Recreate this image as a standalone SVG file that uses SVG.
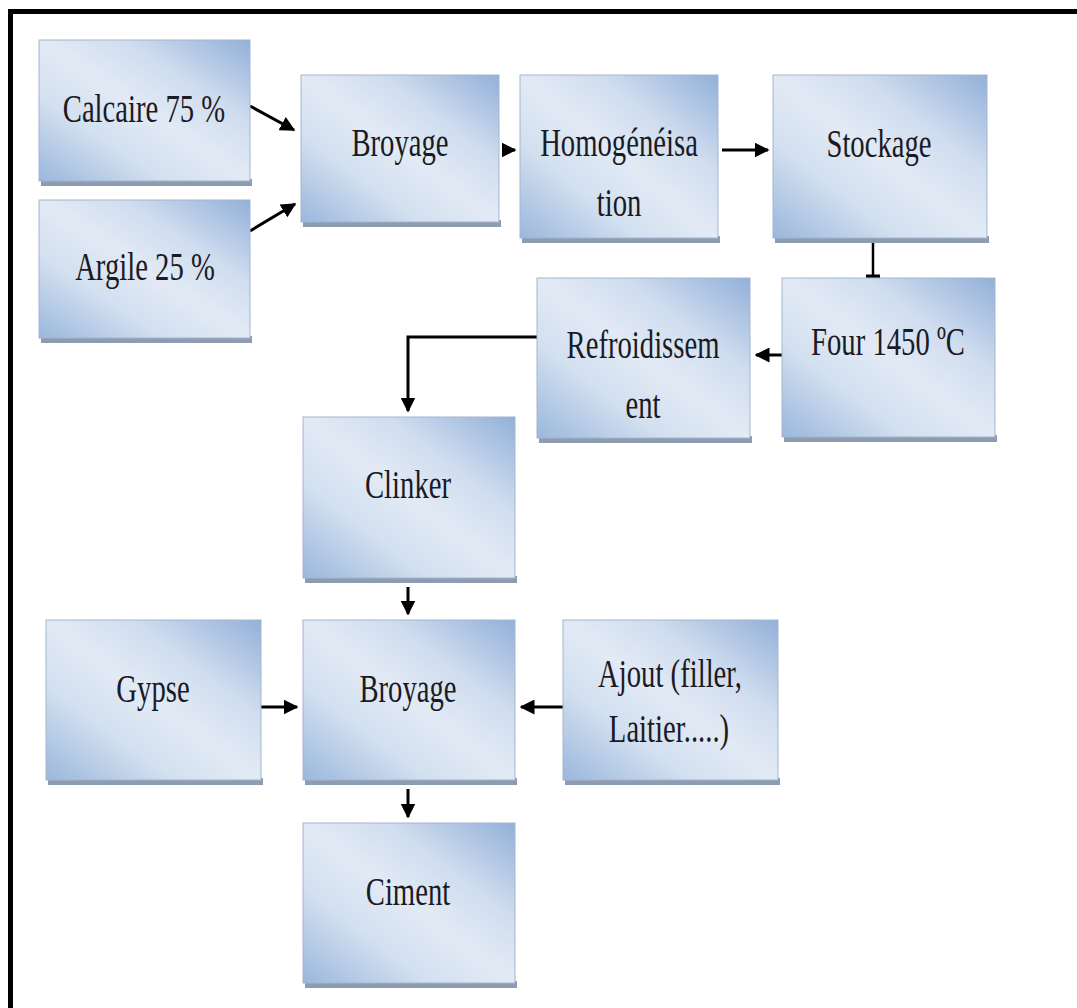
<svg xmlns="http://www.w3.org/2000/svg" width="1077" height="1008" viewBox="0 0 1077 1008">
<style>
.box{fill:url(#g);stroke:#a3b6cd;stroke-width:1}
.shd{fill:#8d9cb0}
.t{font-family:"Liberation Serif","DejaVu Serif","Times New Roman",serif;font-size:41px;fill:#1a1a24;text-anchor:middle}
.c{stroke:#000;stroke-width:3;fill:none}
</style>
<defs>
<linearGradient id="g" x1="0" y1="1" x2="1" y2="0">
<stop offset="0" stop-color="#9ab7dc"/>
<stop offset="0.3" stop-color="#d3e0f0"/>
<stop offset="0.5" stop-color="#e2eaf5"/>
<stop offset="0.7" stop-color="#d0ddef"/>
<stop offset="1" stop-color="#92b0d9"/>
</linearGradient>
<marker id="a" viewBox="0 0 10 10" refX="9" refY="5" markerWidth="5" markerHeight="5" orient="auto" markerUnits="strokeWidth">
<path d="M0,0 L10,5 L0,10 z" fill="#000"/>
</marker>
</defs>
<rect x="0" y="0" width="1077" height="1008" fill="#fff"/>
<path d="M10.5,1008 V11.5 H1077" stroke="#000" stroke-width="5" fill="none"/>

<g id="connectors">
<path class="c" d="M250,106 L294,130" marker-end="url(#a)"/>
<path class="c" d="M250,231 L295,204" marker-end="url(#a)"/>
<path class="c" d="M503,150 H515" marker-end="url(#a)"/>
<path class="c" d="M722,150 H768" marker-end="url(#a)"/>
<path d="M873,243 V276" stroke="#000" stroke-width="2.5"/>
<path d="M866,276.5 H880" stroke="#000" stroke-width="4"/>
<path class="c" d="M782,355 H756" marker-end="url(#a)"/>
<path class="c" d="M537,337 H408 V411" marker-end="url(#a)"/>
<path class="c" d="M408,587 V614" marker-end="url(#a)"/>
<path class="c" d="M261,707 H297" marker-end="url(#a)"/>
<path class="c" d="M563,707 H521" marker-end="url(#a)"/>
<path class="c" d="M408,789 V817" marker-end="url(#a)"/>
</g>

<g id="calcaire"><rect class="shd" x="41" y="179" width="211" height="7"/><rect class="box" x="39" y="40" width="211" height="141"/><text class="t" transform="translate(144,122) scale(0.7,1)">Calcaire 75 %</text></g>
<g id="argile"><rect class="shd" x="41" y="336" width="211" height="7"/><rect class="box" x="39" y="200" width="211" height="138"/><text class="t" transform="translate(145,280) scale(0.7,1)">Argile 25 %</text></g>
<g id="broyage1"><rect class="shd" x="303" y="220" width="198" height="7"/><rect class="box" x="301" y="75" width="198" height="147"/><text class="t" transform="translate(400,156) scale(0.7,1)">Broyage</text></g>
<g id="homogeneisation"><rect class="shd" x="522" y="236" width="198" height="7"/><rect class="box" x="520" y="75" width="198" height="163"/><text class="t" transform="translate(619,156) scale(0.7,1)">Homogénéisa</text><text class="t" transform="translate(619,216) scale(0.7,1)">tion</text></g>
<g id="stockage"><rect class="shd" x="775" y="236" width="214" height="7"/><rect class="box" x="773" y="75" width="214" height="163"/><text class="t" transform="translate(879,157) scale(0.7,1)">Stockage</text></g>
<g id="four"><rect class="shd" x="784" y="435" width="213" height="7"/><rect class="box" x="782" y="278" width="213" height="159"/><text class="t" transform="translate(888,355) scale(0.7,1)">Four 1450 ºC</text></g>
<g id="refroidissement"><rect class="shd" x="539" y="436" width="213" height="7"/><rect class="box" x="537" y="278" width="213" height="160"/><text class="t" transform="translate(643,358) scale(0.7,1)">Refroidissem</text><text class="t" transform="translate(643,418) scale(0.7,1)">ent</text></g>
<g id="clinker"><rect class="shd" x="305" y="576" width="212" height="7"/><rect class="box" x="303" y="417" width="212" height="161"/><text class="t" transform="translate(408,498) scale(0.7,1)">Clinker</text></g>
<g id="gypse"><rect class="shd" x="48" y="778" width="215" height="7"/><rect class="box" x="46" y="620" width="215" height="160"/><text class="t" transform="translate(153,702) scale(0.7,1)">Gypse</text></g>
<g id="broyage2"><rect class="shd" x="305" y="778" width="212" height="7"/><rect class="box" x="303" y="620" width="212" height="160"/><text class="t" transform="translate(408,702) scale(0.7,1)">Broyage</text></g>
<g id="ajout"><rect class="shd" x="565" y="778" width="215" height="7"/><rect class="box" x="563" y="620" width="215" height="160"/><text class="t" transform="translate(670,687) scale(0.7,1)">Ajout (filler,</text><text class="t" transform="translate(669,742) scale(0.7,1)">Laitier.....)</text></g>
<g id="ciment"><rect class="shd" x="305" y="981" width="212" height="7"/><rect class="box" x="303" y="823" width="212" height="160"/><text class="t" transform="translate(408,905) scale(0.7,1)">Ciment</text></g>
</svg>
